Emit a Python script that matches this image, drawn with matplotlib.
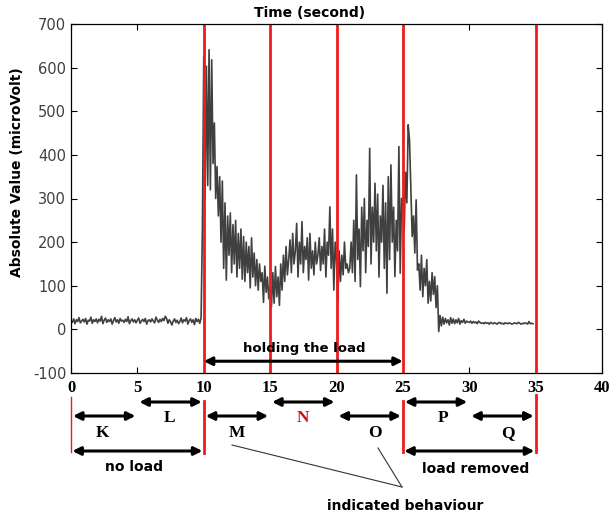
import numpy as np
import matplotlib
matplotlib.use('Agg')
import matplotlib.pyplot as plt
from matplotlib.transforms import blended_transform_factory
from matplotlib.lines import Line2D

# EMG absolute value (microVolt), one sample every 0.1 s
emg = [
    # 0-10 s : no load
    20, 16, 24, 13, 22, 18, 27, 15, 19, 23,
    17, 25, 12, 21, 19, 28, 14, 22, 18, 24,
    15, 23, 19, 30, 13, 21, 26, 16, 22, 18,
    24, 12, 20, 27, 17, 22, 14, 25, 19, 21,
    16, 23, 18, 29, 13, 20, 24, 17, 22, 15,
    21, 26, 14, 19, 23, 18, 25, 12, 20, 22,
    17, 24, 19, 15, 28, 21, 16, 23, 18, 25,
    20, 30, 25, 14, 22, 17, 10, 19, 24, 16,
    21, 13, 18, 26, 15, 22, 19, 27, 12, 20,
    24, 16, 22, 11, 25, 18, 23, 14, 26, 235,
    # 10-25 s : holding the load
    625, 300, 603, 330, 641, 320, 618, 380, 473, 300,
    373, 260, 350, 200, 340, 140, 290, 113, 260, 170,
    267, 130, 240, 150, 250, 120, 220, 140, 230, 115,
    213, 110, 200, 130, 190, 95, 210, 120, 175, 100,
    160, 90, 150, 110, 130, 62, 145, 85, 120, 70,
    98, 52, 130, 60, 144, 75, 120, 55, 150, 90,
    170, 110, 190, 125, 160, 205, 130, 220, 150, 180,
    243, 120, 200, 150, 247, 130, 190, 160, 210, 113,
    220, 140, 180, 125, 200, 150, 170, 210, 135, 190,
    150, 230, 120, 200, 170, 281, 140, 230, 90, 200,
    160, 67, 180, 110, 170, 125, 200, 140, 150, 130,
    140, 200, 130, 250, 110, 354, 160, 230, 98, 280,
    180, 300, 130, 250, 190, 415, 150, 280, 200, 335,
    180, 310, 120, 260, 200, 330, 140, 290, 83, 350,
    160, 377, 200, 280, 121, 250, 180, 419, 129, 300,
    # 25-35 s : load removed
    301, 228, 360, 290, 469, 434, 320, 213, 260, 175,
    297, 136, 150, 90, 170, 75, 140, 100, 160, 60,
    110, 65, 130, 80, 121, 50, 100, -5, 32, 8,
    28, 12, 25, 15, 22, 10, 27, 14, 24, 13,
    22, 15, 25, 12, 20, 16, 23, 14, 19, 17,
    16, 19, 14, 18, 15, 17, 13, 19, 16, 14,
    15, 13, 16, 14, 15, 12, 16, 14, 13, 15,
    14, 12, 15, 16, 13, 14, 12, 15, 14, 13,
    15, 14, 12, 13, 15, 14, 13, 16, 14, 12,
    14, 13, 15, 14, 12, 18, 13, 14, 13,
]
t = np.arange(len(emg)) * 0.1

red_lines = [10, 15, 20, 25, 35]
xticks = [0, 5, 10, 15, 20, 25, 30, 35, 40]
yticks = [-100, 0, 100, 200, 300, 400, 500, 600, 700]
sections = ['K', 'L', 'M', 'N', 'O', 'P', 'Q']
section_start = [0, 5, 10, 15, 20, 25, 30]
label_x = [2.4, 7.45, 12.5, 17.5, 22.9, 28.0, 32.9]

RED = '#ee1c1c'
W, H = 612, 515

fig = plt.figure(figsize=(6.12, 5.15), dpi=100)
ax = fig.add_axes([71 / W, 1 - 373 / H, 531 / W, 349 / H])

ax.plot(t, emg, color='#404040', lw=1.2)
for x in red_lines:
    ax.axvline(x, color=RED, lw=2)

ax.set_xlim(0, 40)
ax.set_ylim(-100, 700)
ax.set_yticks(yticks)
ax.set_yticklabels([str(v) for v in yticks], fontsize=10.5, color='#404040')
ax.set_xticks(xticks)
ax.set_xticklabels([str(v) for v in xticks], fontsize=12, fontweight='bold',
                   family='Liberation Serif')
ax.tick_params(direction='in', top=True, right=True, length=4, width=0.8)
ax.tick_params(axis='x', pad=5)
for s in ax.spines.values():
    s.set_linewidth(0.9)

# arrow inside the axes
ax.annotate('', xy=(25, -73), xytext=(10, -73),
            arrowprops=dict(arrowstyle='<|-|>', color='black', lw=2.2,
                            mutation_scale=12, shrinkA=0, shrinkB=0))
ax.text(17.6, -43, 'holding the load', ha='center', va='center',
        fontsize=9.5, fontweight='bold')

# annotations below the axes: x in data units, y in figure pixels
trans = blended_transform_factory(ax.transData, fig.transFigure)
fy = lambda p: 1 - p / H


def darrow(x0, x1, ypix):
    ax.annotate('', xy=(x1, fy(ypix)), xytext=(x0, fy(ypix)),
                xycoords=trans, textcoords=trans, annotation_clip=False,
                arrowprops=dict(arrowstyle='<|-|>', color='black', lw=2.2,
                                mutation_scale=12, shrinkA=0, shrinkB=0))


for i, (name, x0, lx) in enumerate(zip(sections, section_start, label_x)):
    upper = i % 2 == 1
    ya = 402 if upper else 416
    yt = 418 if upper else 433
    darrow(x0 + 0.15, x0 + 4.85, ya)
    ax.text(lx, fy(yt), name, transform=trans, ha='center', va='center',
            fontsize=12.5, fontweight='bold', family='Liberation Serif',
            color='#cc1111' if name == 'N' else 'black')

darrow(0.1, 9.9, 451)
darrow(25.1, 34.9, 451)

for x, y0, y1, lw in [(0, 397, 452, 1), (10, 401, 453, 2), (25, 401, 452, 2), (35, 395, 452, 2)]:
    ax.plot([x, x], [fy(y0), fy(y1)], transform=trans, color=RED, lw=lw, clip_on=False)

fig.text(134 / W, fy(467), 'no load', ha='center', va='center', fontsize=10, fontweight='bold')
fig.text(476 / W, fy(469), 'load removed', ha='center', va='center', fontsize=10, fontweight='bold')
fig.text(405 / W, fy(506), 'indicated behaviour', ha='center', va='center', fontsize=10, fontweight='bold')

# pointer lines to "indicated behaviour"
for x0, y0 in [(232, 445), (378, 448)]:
    fig.add_artist(Line2D([x0 / W, 402 / W], [fy(y0), fy(487)], color='#333333', lw=0.8))

fig.text(310 / W, fy(13), 'Time (second)', ha='center', va='center', fontsize=10, fontweight='bold')
fig.text(17 / W, fy(172), 'Absolute Value (microVolt)', ha='center', va='center',
         rotation=90, fontsize=10, fontweight='bold')

fig.savefig('out.png', dpi=100)
